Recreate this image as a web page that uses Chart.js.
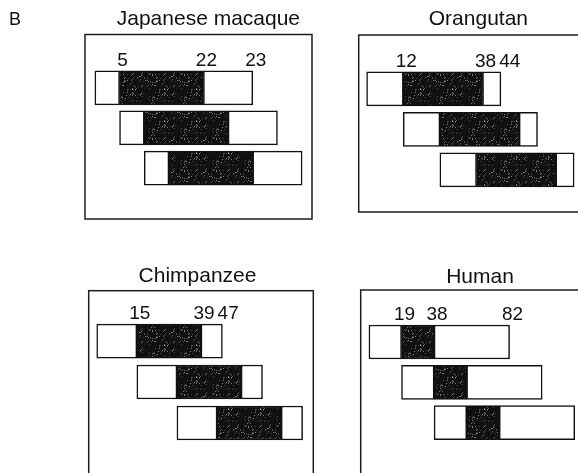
<!DOCTYPE html>
<html>
<head>
<meta charset="utf-8">
<script src="https://cdn.jsdelivr.net/npm/chart.js@4.4.1/dist/chart.umd.min.js"></script>
<style>
  html, body { margin: 0; padding: 0; background: #ffffff; }
  body { width: 578px; height: 473px; overflow: hidden; position: relative; }
  canvas { position: absolute; left: 0; top: 0; }
</style>
</head>
<body>
<canvas id="c0" width="620" height="520"></canvas>
<canvas id="c1" width="620" height="520"></canvas>
<canvas id="c2" width="620" height="520"></canvas>
<canvas id="c3" width="620" height="520"></canvas>
<script>
// Species shown in the four panels
const SPECIES = ['Japanese macaque', 'Orangutan', 'Chimpanzee', 'Human'];

// Three staggered copies per panel
const ROWS = [1, 2, 3];

// Boundaries of each copy: end of leading part, end of core, end of copy
const macaqueBreaks = [5, 22, 32];
const orangutanBreaks = [12, 38, 44];
const chimpanzeeBreaks = [15, 39, 47];
const humanBreaks = [19, 38, 82];

// Numbers printed above the first copy
const macaqueLabels = ['5', '22', '23'];
const orangutanLabels = ['12', '38', '44'];
const chimpanzeeLabels = ['15', '39', '47'];
const humanLabels = ['19', '38', '82'];

const BREAKS = [macaqueBreaks, orangutanBreaks, chimpanzeeBreaks, humanBreaks];
const LABELS = [macaqueLabels, orangutanLabels, chimpanzeeLabels, humanLabels];

// Panel geometry on the page (box edges, axis ranges, title anchor)
const PANELS = [
  { id: 'c0', box: [85, 34.5, 312, 219],      x: [-2, 44],      y: [-0.33, 4.27], title: [208.4, 25], tag: 'B' },
  { id: 'c1', box: [358.7, 35, 590, 212],     x: [-2.6, 73.2],  y: [-0.33, 4.04], title: [478.4, 25] },
  { id: 'c2', box: [88.7, 290.7, 313.3, 500], x: [-3, 81],      y: [-0.23, 4.88], title: [197.5, 282] },
  { id: 'c3', box: [360.7, 290, 590, 500],    x: [-4.8, 128.9], y: [-0.29, 4.92], title: [480, 283] }
];

const FONT = '"Liberation Sans", Arial, Helvetica, sans-serif';
const BAR_THICKNESS = 34;

// Dark stippled fill for the core region
function stipple() {
  const c = document.createElement('canvas');
  c.width = c.height = 32;
  const g = c.getContext('2d');
  g.fillStyle = '#101010';
  g.fillRect(0, 0, 32, 32);
  let s = 2024;
  const next = () => { s = (Math.imul(s, 1103515245) + 12345) >>> 0; return (s >>> 16) & 31; };
  for (let i = 0; i < 120; i++) {
    const px = next(), py = next();
    g.fillStyle = i % 3 ? '#4a4a4a' : '#7e7e7e';
    g.fillRect(px, py, 1, 1);
  }
  return g.createPattern(c, 'repeat');
}
const CORE_FILL = stipple();

// Each copy starts where the previous copy's core starts
function segments(breaks) {
  const [a, b, c] = breaks;
  const lead = [], core = [], tail = [];
  ROWS.forEach((r, k) => {
    const off = k * a;
    lead.push({ y: r, x: [off, off + a] });
    core.push({ y: r, x: [off + a, off + b] });
    tail.push({ y: r, x: [off + b, off + c] });
  });
  return { lead, core, tail };
}

const frameAndText = {
  id: 'frameAndText',
  afterDatasetsDraw(chart, args, opts) {
    const ctx = chart.ctx;
    const a = chart.chartArea;
    ctx.save();
    // panel frame
    ctx.strokeStyle = '#1e1e1e';
    ctx.lineWidth = 1.5;
    ctx.strokeRect(a.left, a.top, a.right - a.left, a.bottom - a.top);

    // title
    ctx.fillStyle = '#111111';
    ctx.textBaseline = 'alphabetic';
    ctx.textAlign = 'center';
    ctx.font = '21px ' + FONT;
    ctx.fillText(opts.title, opts.titlePos[0], opts.titlePos[1]);

    if (opts.tag) {
      ctx.textAlign = 'left';
      ctx.font = '18px ' + FONT;
      ctx.fillText(opts.tag, 9, 25);
    }

    // boundary numbers above the first copy
    const xs = chart.scales.x, ys = chart.scales.y;
    const baseY = ys.getPixelForValue(ROWS[0]) - BAR_THICKNESS / 2 - 5;
    ctx.font = '19px ' + FONT;
    ctx.textAlign = 'center';
    let prevRight = -Infinity;
    opts.breaks.forEach((v, i) => {
      const txt = opts.labels[i];
      const w = ctx.measureText(txt).width;
      let cx = xs.getPixelForValue(v) + 3;
      if (cx - w / 2 < prevRight + 3) cx = prevRight + 3 + w / 2;
      ctx.fillText(txt, cx, baseY);
      prevRight = cx + w / 2;
    });
    ctx.restore();
  }
};

PANELS.forEach((p, i) => {
  const seg = segments(BREAKS[i]);
  const common = {
    borderColor: '#111111',
    borderWidth: 1.5,
    borderSkipped: false,
    grouped: false,
    barThickness: BAR_THICKNESS
  };
  new Chart(document.getElementById(p.id), {
    type: 'bar',
    data: {
      datasets: [
        Object.assign({ label: 'leading', data: seg.lead, backgroundColor: '#ffffff' }, common),
        Object.assign({ label: 'core', data: seg.core, backgroundColor: CORE_FILL }, common),
        Object.assign({ label: 'trailing', data: seg.tail, backgroundColor: '#ffffff' }, common)
      ]
    },
    options: {
      indexAxis: 'y',
      responsive: false,
      animation: false,
      devicePixelRatio: 1,
      events: [],
      layout: {
        padding: { left: p.box[0], top: p.box[1], right: 620 - p.box[2], bottom: 520 - p.box[3] }
      },
      scales: {
        x: { type: 'linear', min: p.x[0], max: p.x[1], offset: false, display: false },
        y: { type: 'linear', min: p.y[0], max: p.y[1], offset: false, reverse: true, display: false }
      },
      plugins: {
        legend: { display: false },
        tooltip: { enabled: false },
        frameAndText: {
          title: SPECIES[i],
          titlePos: p.title,
          tag: p.tag || null,
          breaks: BREAKS[i],
          labels: LABELS[i]
        }
      }
    },
    plugins: [frameAndText]
  });
});
</script>
</body>
</html>
